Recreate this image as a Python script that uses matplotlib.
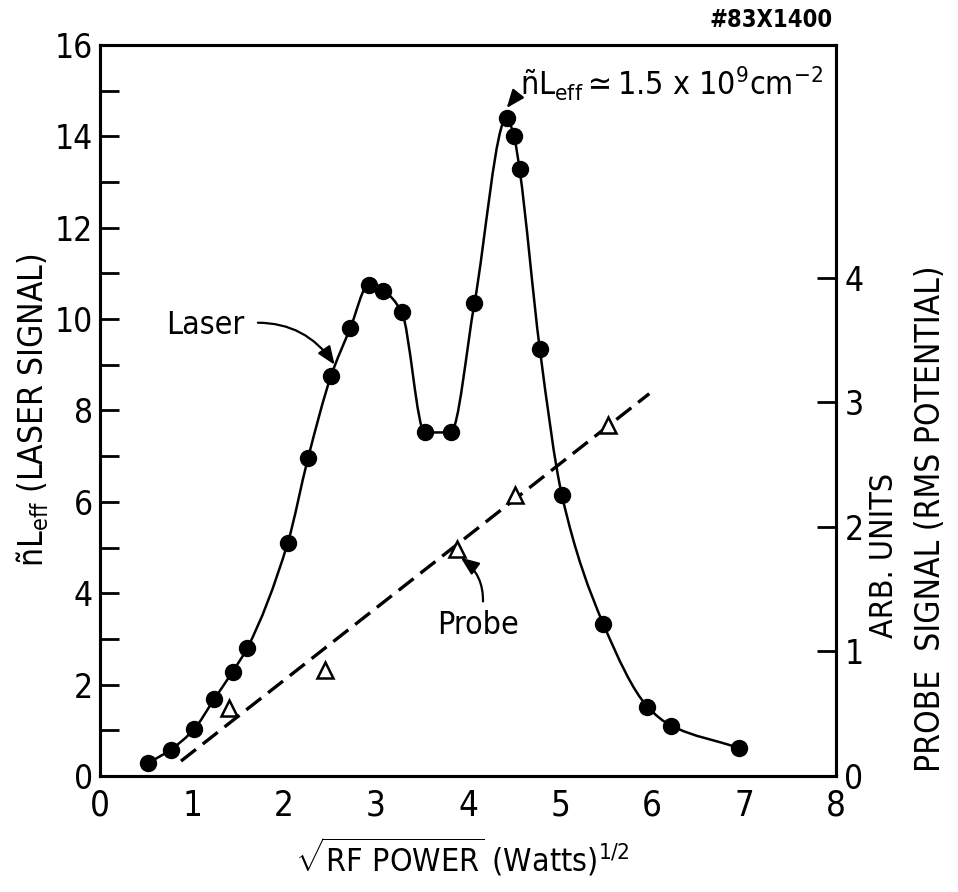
import numpy as np
import matplotlib
matplotlib.use("Agg")
import matplotlib.pyplot as plt
from matplotlib.path import Path
from matplotlib.patches import PathPatch

plt.rcParams["font.family"] = ["DejaVu Sans"]
plt.rcParams["font.stretch"] = "condensed"
plt.rcParams["mathtext.fontset"] = "custom"
plt.rcParams["mathtext.rm"] = "DejaVu Sans:stretch=condensed"
plt.rcParams["mathtext.it"] = "DejaVu Sans:italic:stretch=condensed"
plt.rcParams["mathtext.bf"] = "DejaVu Sans:bold:stretch=condensed"

# laser signal (left axis)
laser_x = [0.52, 0.77, 1.02, 1.24, 1.44, 1.60, 2.04, 2.26, 2.51, 2.72, 2.92, 3.08, 3.28,
           3.53, 3.81, 4.07, 4.42, 4.50, 4.56, 4.78, 5.02, 5.47, 5.95, 6.21, 6.94]
laser_y = [0.28, 0.58, 1.02, 1.68, 2.28, 2.80, 5.10, 6.95, 8.75, 9.80, 10.75, 10.62, 10.15,
           7.52, 7.52, 10.35, 14.40, 14.00, 13.28, 9.35, 6.15, 3.33, 1.52, 1.10, 0.62]

# probe signal (right axis, arb. units)
probe_x = [1.40, 2.45, 3.88, 4.51, 5.52]
probe_y = [0.55, 0.85, 1.82, 2.26, 2.82]
# hand-drawn dashed fit line
probe_fit_x = [0.88, 5.97]
probe_fit_y = [0.12, 3.07]

left_ticks = list(range(0, 17))
left_labels = [str(v) if v % 2 == 0 else "" for v in left_ticks]
right_ticks = [0, 1, 2, 3, 4]
x_ticks = list(range(0, 9))


def smooth_path(xs, ys):
    # monotone cubic (pchip style) through the points, drawn as bezier segments
    x = np.asarray(xs, float)
    y = np.asarray(ys, float)
    h = np.diff(x)
    d = np.diff(y) / h
    m = np.zeros_like(y)
    for i in range(1, len(x) - 1):
        if d[i - 1] * d[i] > 0:
            w1 = 2 * h[i] + h[i - 1]
            w2 = h[i] + 2 * h[i - 1]
            m[i] = (w1 + w2) / (w1 / d[i - 1] + w2 / d[i])
    m[0] = d[0]
    m[-1] = d[-1]
    verts = [(x[0], y[0])]
    codes = [Path.MOVETO]
    for i in range(len(x) - 1):
        verts += [(x[i] + h[i] / 3, y[i] + m[i] * h[i] / 3),
                  (x[i + 1] - h[i] / 3, y[i + 1] - m[i + 1] * h[i] / 3),
                  (x[i + 1], y[i + 1])]
        codes += [Path.CURVE4] * 3
    return Path(verts, codes)


fig = plt.figure(figsize=(9.58, 8.92), dpi=100)
ax = fig.add_axes([0.1044, 0.130, 0.7683, 0.8196])
ax2 = ax.twinx()

ax.set_xlim(0, 8)
ax.set_ylim(0, 16)
ax2.set_ylim(0, 5.87)

ax.add_patch(PathPatch(smooth_path(laser_x, laser_y), fill=False, lw=1.8, color="black"))
ax.plot(laser_x, laser_y, "o", color="black", ms=11.5, zorder=3)

ax2.plot(probe_fit_x, probe_fit_y, color="black", lw=2.4, dashes=(5.7, 2.6),
         dash_capstyle="butt")
ax2.plot(probe_x, probe_y, "^", mfc="white", mec="black", mew=1.8, ms=11, zorder=3)

for a in (ax, ax2):
    for s in a.spines.values():
        s.set_linewidth(2.2)

ax.set_xticks(x_ticks)
ax.set_xticklabels([str(v) for v in x_ticks])
ax.set_yticks(left_ticks)
ax.set_yticklabels(left_labels)
ax.tick_params(axis="x", length=0, pad=9, labelsize=25)
ax.tick_params(axis="y", direction="in", length=14, width=2.0, pad=5, labelsize=24)
ax2.set_yticks(right_ticks)
ax2.tick_params(axis="y", direction="in", length=14, width=2.0, pad=6, labelsize=24)

ax.text(-0.092, 0.50, r"ñL$_{\mathrm{eff}}$ (LASER SIGNAL)", transform=ax.transAxes,
        rotation=90, ha="center", va="center", fontsize=24)
ax.text(1.066, 0.302, "ARB. UNITS", transform=ax.transAxes,
        rotation=90, ha="center", va="center", fontsize=23)
ax.text(1.128, 0.352, "PROBE  SIGNAL (RMS POTENTIAL)", transform=ax.transAxes,
        rotation=90, ha="center", va="center", fontsize=24)
ax.text(0.492, -0.111, r"$\sqrt{\mathrm{RF\ POWER}}$ (Watts)$^{1/2}$", transform=ax.transAxes,
        ha="center", va="center", fontsize=23)

fig.text(833 / 958, 1 - 20 / 892, "#83X1400", ha="right", va="center",
         fontsize=17, fontweight="bold")

arrow_kw = dict(arrowstyle="-|>,head_length=0.55,head_width=0.22", color="black",
                lw=1.6, mutation_scale=20)

ax.annotate(r"ñL$_{\mathrm{eff}}\simeq$1.5 x 10$^{9}$cm$^{-2}$", xy=(4.42, 14.62),
            xytext=(4.565, 14.9), ha="left", va="baseline", fontsize=23,
            arrowprops=dict(**arrow_kw, relpos=(0.0, 0.3), shrinkA=3, shrinkB=0))
ax.annotate("Laser", xy=(2.55, 9.0), xytext=(1.14, 9.87), ha="center", va="center",
            fontsize=23,
            arrowprops=dict(**arrow_kw, relpos=(1.0, 0.55), shrinkA=8, shrinkB=0,
                            connectionstyle="arc3,rad=-0.3"))
ax.annotate("Probe", xy=(3.92, 4.78), xytext=(4.11, 3.30), ha="center", va="center",
            fontsize=23,
            arrowprops=dict(**arrow_kw, relpos=(0.55, 1.0), shrinkA=4, shrinkB=0,
                            connectionstyle="arc3,rad=0.3"))

fig.savefig("out.png", dpi=100)
